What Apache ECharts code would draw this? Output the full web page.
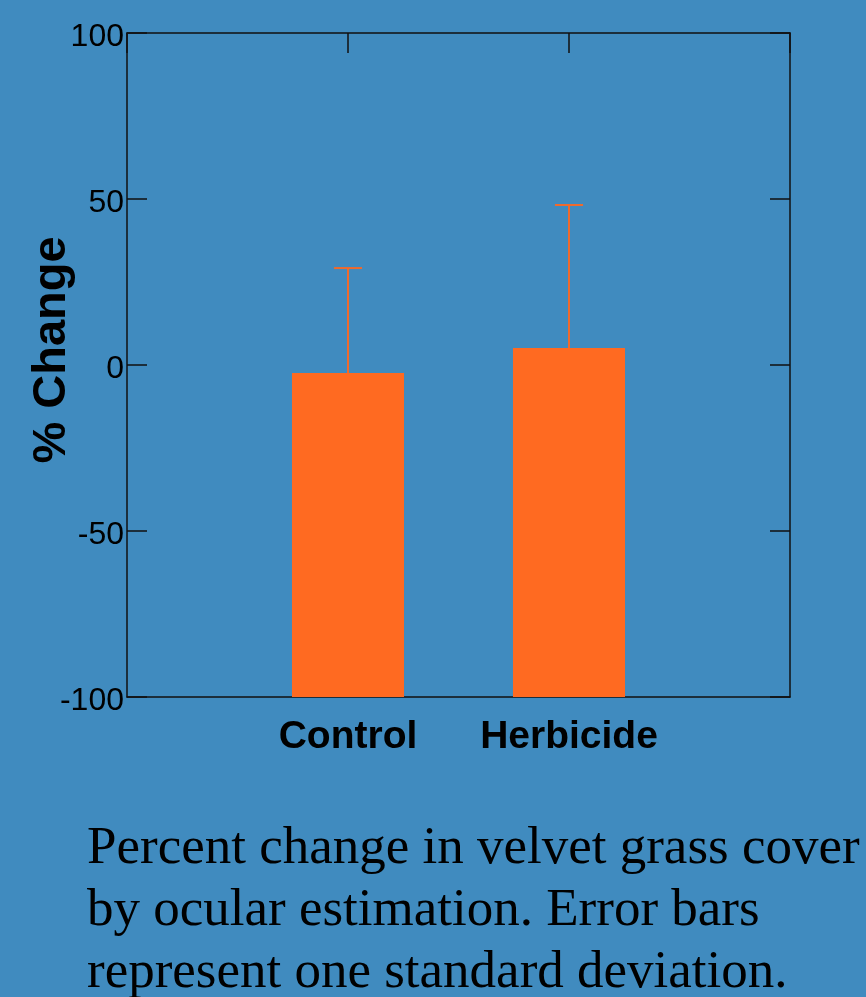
<!DOCTYPE html>
<html>
<head>
<meta charset="utf-8">
<script src="https://cdn.jsdelivr.net/npm/echarts@6/dist/echarts.min.js"></script>
<style>
html,body{margin:0;padding:0;background:#408bbf;}
#chart{width:866px;height:997px;}
</style>
</head>
<body>
<div id="chart"></div>
<script>
const categories = ['Control', 'Herbicide'];
const means = [-2.4, 5.1];
const sds = [31.6, 43.1];
const yTicks = [-100, -50, 0, 50, 100];
const yTitle = '% Change';
const caption = 'Percent change in velvet grass cover\nby ocular estimation. Error bars\nrepresent one standard deviation.';

const axisCats = [''].concat(categories, ['']);
const barData = categories.map((c, i) => [c, means[i]]);
const errData = categories.map((c, i) => [c, means[i], sds[i]]);
const yMin = yTicks[0], yMax = yTicks[yTicks.length - 1], yStep = yTicks[1] - yTicks[0];

const chart = echarts.init(document.getElementById('chart'), null, {renderer: 'canvas'});
const lineStyle = {color: '#111', width: 1.5};
chart.setOption({
  backgroundColor: '#408bbf',
  animation: false,
  title: {
    text: caption,
    left: 82,
    top: 813,
    textStyle: {fontFamily: 'Liberation Serif', fontSize: 53, fontWeight: 'normal', color: '#000', lineHeight: 62}
  },
  grid: {left: 127, right: 76, top: 33, bottom: 300},
  xAxis: [{
    type: 'category', data: axisCats, boundaryGap: false, position: 'bottom',
    axisLine: {show: true, onZero: false, lineStyle: lineStyle},
    axisTick: {show: false},
    axisLabel: {margin: 21, color: '#000', fontFamily: 'Liberation Sans', fontWeight: 'bold', fontSize: 39, interval: 0},
    splitLine: {show: false}
  }, {
    type: 'category', data: axisCats, boundaryGap: false, position: 'top',
    axisLine: {show: true, onZero: false, lineStyle: lineStyle},
    axisTick: {show: true, inside: true, length: 20, lineStyle: lineStyle, interval: 0},
    axisLabel: {show: false},
    splitLine: {show: false}
  }],
  yAxis: [{
    type: 'value', min: yMin, max: yMax, interval: yStep, position: 'left',
    name: yTitle, nameLocation: 'middle', nameGap: 51, nameRotate: 90, nameMoveOverlap: false,
    nameTextStyle: {color: '#000', fontFamily: 'Liberation Sans', fontWeight: 'bold', fontSize: 47, padding: [0, 0, 0, 30]},
    axisLine: {show: true, onZero: false, lineStyle: lineStyle},
    axisTick: {show: true, inside: true, length: 20, lineStyle: lineStyle},
    axisLabel: {margin: 3, color: '#000', fontFamily: 'Liberation Sans', fontSize: 32, verticalAlign: 'top', lineHeight: 8},
    splitLine: {show: false}
  }, {
    type: 'value', min: yMin, max: yMax, interval: yStep, position: 'right',
    axisLine: {show: true, onZero: false, lineStyle: lineStyle},
    axisTick: {show: true, inside: true, length: 20, lineStyle: lineStyle},
    axisLabel: {show: false},
    splitLine: {show: false}
  }],
  series: [{
    type: 'custom',
    xAxisIndex: 0, yAxisIndex: 0,
    data: barData,
    renderItem: function (params, api) {
      const x = api.value(0);
      const top = api.coord([x, api.value(1)]);
      const base = api.coord([x, yMin]);
      const w = api.size([1, 0])[0] * 0.507;
      return {
        type: 'rect',
        shape: {x: top[0] - w / 2, y: top[1], width: w, height: base[1] - top[1]},
        style: {fill: '#ff6a21'}
      };
    }
  }, {
    type: 'custom',
    xAxisIndex: 0, yAxisIndex: 0,
    data: errData,
    z: 3,
    renderItem: function (params, api) {
      const x = api.value(0);
      const m = api.value(1), s = api.value(2);
      const p0 = api.coord([x, m]);
      const p1 = api.coord([x, m + s]);
      const cw = api.size([1, 0])[0] * 0.127;
      const st = {stroke: '#f06a2c', lineWidth: 2};
      return {
        type: 'group',
        children: [
          {type: 'line', shape: {x1: p0[0], y1: p0[1], x2: p1[0], y2: p1[1]}, style: st},
          {type: 'line', shape: {x1: p1[0] - cw / 2, y1: p1[1], x2: p1[0] + cw / 2, y2: p1[1]}, style: st}
        ]
      };
    }
  }]
});
</script>
</body>
</html>
